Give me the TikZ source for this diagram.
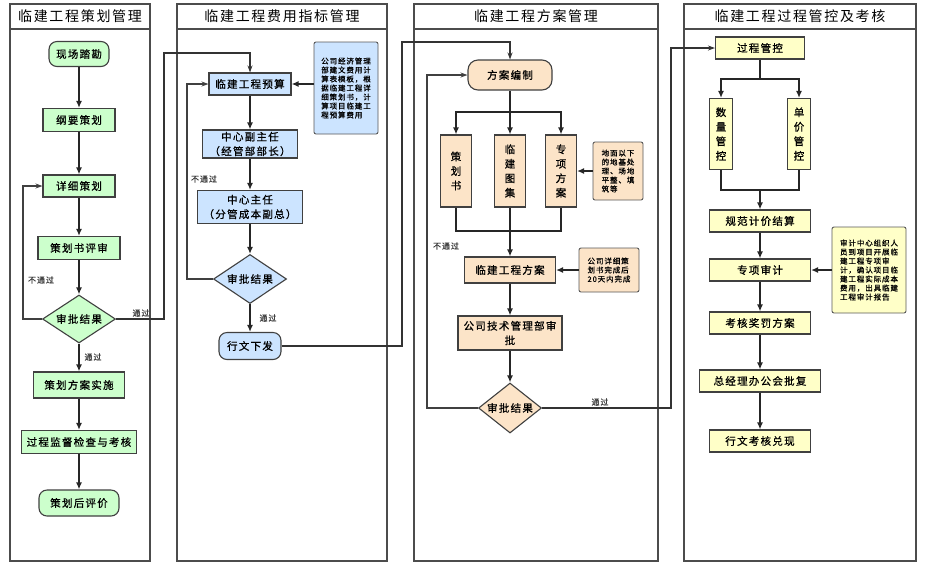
\documentclass[tikz,border=0pt]{standalone}
\usepackage{fontspec}
\setmainfont{Liberation Serif}
\newfontfamily\cjkfont[LetterSpace=12]{Noto Sans CJK SC}
\newfontfamily\cjkboxfont[LetterSpace=12,FakeBold=0.8]{Noto Sans CJK SC}
\usetikzlibrary{shapes.geometric,arrows.meta}

\definecolor{lgreen}{RGB}{204,255,204}
\definecolor{lblue}{RGB}{204,228,255}
\definecolor{lpeach}{RGB}{252,228,200}
\definecolor{lyellow}{RGB}{255,255,200}

\tikzset{
  lane/.style={draw=black!70,line width=1.2pt},
  lanetitle/.style={font=\cjkfont\fontsize{14}{16}\selectfont},
  base/.style={draw=black!75,line width=1.1pt,inner sep=0pt,align=center,
    font=\cjkboxfont\fontsize{10.5}{14.5}\selectfont},
  note/.style={draw=black!65,line width=0.9pt,rounded corners=2pt,inner sep=0pt,align=left,
    font=\cjkboxfont\fontsize{7.5}{9}\selectfont},
  greenbox/.style={base,fill=lgreen},
  bluebox/.style={base,fill=lblue},
  peachbox/.style={base,fill=lpeach},
  yellowbox/.style={base,fill=lyellow},
  decide/.style={diamond,aspect=1.3},
  lbl/.style={font=\cjkboxfont\fontsize{8}{9}\selectfont,text=black!75,inner sep=0pt},
  flow/.style={line width=1.8pt,black!85,-{Latex[length=7pt,width=6pt]}},
  plain/.style={line width=1.8pt,black!85},
  noteline/.style={line width=1.3pt,black!85,-{Latex[length=7pt,width=6pt]}},
  back/.style={line width=1.2pt,black!75,-{Stealth[length=7pt,width=5pt]}},
  cross/.style={line width=1.2pt,black!80,-{Stealth[length=7pt,width=5pt]}}
}

\begin{document}
\begin{tikzpicture}[x=1pt,y=-1pt]
\path[use as bounding box,fill=white] (0,0) rectangle (925,566);

\draw[lane] (10,4) rectangle (150,561);
\draw[lane,fill=white] (10,4) rectangle (150,29);
\node[lanetitle] (titleA) at (80,16.5) {临建工程策划管理};
\draw[lane] (177,4) rectangle (387,561);
\draw[lane,fill=white] (177,4) rectangle (387,29);
\node[lanetitle] (titleB) at (282,16.5) {临建工程费用指标管理};
\draw[lane] (414,4) rectangle (658,561);
\draw[lane,fill=white] (414,4) rectangle (658,29);
\node[lanetitle] (titleC) at (536,16.5) {临建工程方案管理};
\draw[lane] (684,4) rectangle (916,561);
\draw[lane,fill=white] (684,4) rectangle (916,29);
\node[lanetitle] (titleD) at (800,16.5) {临建工程过程管控及考核};

\node[greenbox,rounded corners=8pt,minimum width=60pt,minimum height=25pt] (xianchang) at (79,54) {现场踏勘};
\node[greenbox,minimum width=72pt,minimum height=23pt] (gangyao) at (79,120) {纲要策划};
\node[greenbox,minimum width=72pt,minimum height=22pt] (xiangxi) at (79,186) {详细策划};
\node[greenbox,minimum width=82pt,minimum height=23pt] (pingshen) at (79,248) {策划书评审};
\node[greenbox,decide,minimum width=73pt,minimum height=48pt] (shenpiA) at (79,319) {审批结果};
\node[greenbox,minimum width=91pt,minimum height=26pt] (shishi) at (79,385) {策划方案实施};
\node[greenbox,minimum width=115pt,minimum height=23pt] (jiandu) at (79,442) {过程监督检查与考核};
\node[greenbox,rounded corners=8pt,minimum width=80pt,minimum height=26pt] (houping) at (79,503) {策划后评价};

\node[bluebox,minimum width=82pt,minimum height=22pt] (yusuan) at (250,84) {临建工程预算};
\node[note,fill=lblue,minimum width=64pt,minimum height=92pt] (noteB) at (346,88) {公司经济管理\\部建文费用计\\算表模板，根\\据临建工程详\\细策划书，计\\算项目临建工\\程预算费用};
\node[bluebox,minimum width=95pt,minimum height=28pt] (fuzhuren) at (250,144) {中心副主任\\（经管部部长）};
\node[bluebox,minimum width=105pt,minimum height=33pt] (zhuren) at (250,207) {中心主任\\（分管成本副总）};
\node[bluebox,decide,minimum width=73pt,minimum height=49pt] (shenpiB) at (250,279) {审批结果};
\node[bluebox,rounded corners=8pt,minimum width=62pt,minimum height=27pt] (xiawen) at (250,346) {行文下发};

\node[peachbox,rounded corners=10pt,minimum width=84pt,minimum height=30pt] (bianzhi) at (510,75) {方案编制};
\node[peachbox,minimum width=31pt,minimum height=72pt] (cehuashu) at (456,171) {策\\划\\书};
\node[peachbox,minimum width=31pt,minimum height=72pt] (tuji) at (510,171) {临\\建\\图\\集};
\node[peachbox,minimum width=31pt,minimum height=72pt] (zhuanxiang) at (561,171) {专\\项\\方\\案};
\node[note,fill=lpeach,minimum width=50pt,minimum height=58pt] (noteC) at (618,171) {地面以下\\的地基处\\理、场地\\平整、填\\筑等};
\node[peachbox,minimum width=91pt,minimum height=26pt] (fangan) at (510,270) {临建工程方案};
\node[note,fill=lpeach,minimum width=60pt,minimum height=44pt] (noteD) at (609,270) {公司详细策\\划书完成后\\20天内完成};
\node[peachbox,minimum width=104pt,minimum height=34pt] (jishu) at (510,333) {公司技术管理部审\\批};
\node[peachbox,decide,minimum width=63pt,minimum height=50pt] (shenpiC) at (510,408) {审批结果};

\node[yellowbox,minimum width=89pt,minimum height=22pt] (guankong) at (760,48) {过程管控};
\node[yellowbox,minimum width=23pt,minimum height=71pt] (shuliang) at (721,134) {数\\量\\管\\控};
\node[yellowbox,minimum width=23pt,minimum height=71pt] (danjia) at (799,134) {单\\价\\管\\控};
\node[yellowbox,minimum width=101pt,minimum height=22pt] (guifan) at (760,221) {规范计价结算};
\node[yellowbox,minimum width=101pt,minimum height=22pt] (shenji) at (760,270) {专项审计};
\node[note,fill=lyellow,minimum width=74pt,minimum height=86pt] (noteE) at (869,270) {审计中心组织人\\员到项目开展临\\建工程专项审\\计，确认项目临\\建工程实际成本\\费用，出具临建\\工程审计报告};
\node[yellowbox,minimum width=101pt,minimum height=22pt] (kaohe) at (760,323) {考核奖罚方案};
\node[yellowbox,minimum width=121pt,minimum height=22pt] (pifu) at (760,381) {总经理办公会批复};
\node[yellowbox,minimum width=101pt,minimum height=22pt] (duixian) at (760,441) {行文考核兑现};

\node[lbl] (nopassA) at (41,280) {不通过};
\node[lbl] (passA) at (141,313) {通过};
\node[lbl] (downA) at (93,357) {通过};
\node[lbl] (nopassB) at (204,179) {不通过};
\node[lbl] (passB) at (268,318) {通过};
\node[lbl] (nopassC) at (446,246) {不通过};
\node[lbl] (passC) at (600,402) {通过};

\coordinate (backA) at (23,186);
\coordinate (turnA) at (164,53);
\coordinate (backB) at (187,84);
\coordinate (turnB) at (402,42);
\coordinate (forkC) at (510,112);
\coordinate (joinC) at (510,231);
\coordinate (backC) at (427,75);
\coordinate (turnC) at (671,48);
\coordinate (forkD) at (760,79);
\coordinate (joinD) at (760,190);

\draw[flow] (xianchang) -- (gangyao);
\draw[flow] (gangyao) -- (xiangxi);
\draw[flow] (xiangxi) -- (pingshen);
\draw[flow] (pingshen) -- (shenpiA);
\draw[flow] (shenpiA) -- (shishi);
\draw[flow] (shishi) -- (jiandu);
\draw[flow] (jiandu) -- (houping);
\draw[back] (shenpiA.west) -| (backA) -- (xiangxi.west);
\draw[cross] (shenpiA.east) -| (turnA) -| (yusuan.north);

\draw[flow] (yusuan -| noteB.west) -- (yusuan.east);
\draw[flow] (yusuan) -- (fuzhuren);
\draw[flow] (fuzhuren) -- (zhuren);
\draw[flow] (zhuren) -- (shenpiB);
\draw[flow] (shenpiB) -- (xiawen);
\draw[back] (shenpiB.west) -| (backB) -- (yusuan.west);
\draw[cross] (xiawen.east) -| (turnB) -| (bianzhi.north);

\draw[plain] (bianzhi) -- (forkC);
\draw[flow] (forkC) -| (cehuashu);
\draw[flow] (forkC) -- (tuji);
\draw[flow] (forkC) -| (zhuanxiang);
\draw[plain] (cehuashu) |- (joinC) -| (zhuanxiang);
\draw[flow] (tuji) -- (fangan);
\draw[noteline] (noteC) -- (zhuanxiang);
\draw[noteline] (noteD) -- (fangan);
\draw[flow] (fangan) -- (jishu);
\draw[flow] (jishu) -- (shenpiC);
\draw[back] (shenpiC.west) -| (backC) -- (bianzhi.west);
\draw[cross] (shenpiC.east) -| (turnC) -- (guankong.west);

\draw[plain] (guankong) -- (forkD);
\draw[flow] (forkD) -| (shuliang);
\draw[flow] (forkD) -| (danjia);
\draw[plain] (shuliang) |- (joinD) -| (danjia);
\draw[flow] (joinD) -- (guifan);
\draw[flow] (guifan) -- (shenji);
\draw[noteline] (noteE) -- (shenji);
\draw[flow] (shenji) -- (kaohe);
\draw[flow] (kaohe) -- (pifu);
\draw[flow] (pifu) -- (duixian);
\end{tikzpicture}
\end{document}
